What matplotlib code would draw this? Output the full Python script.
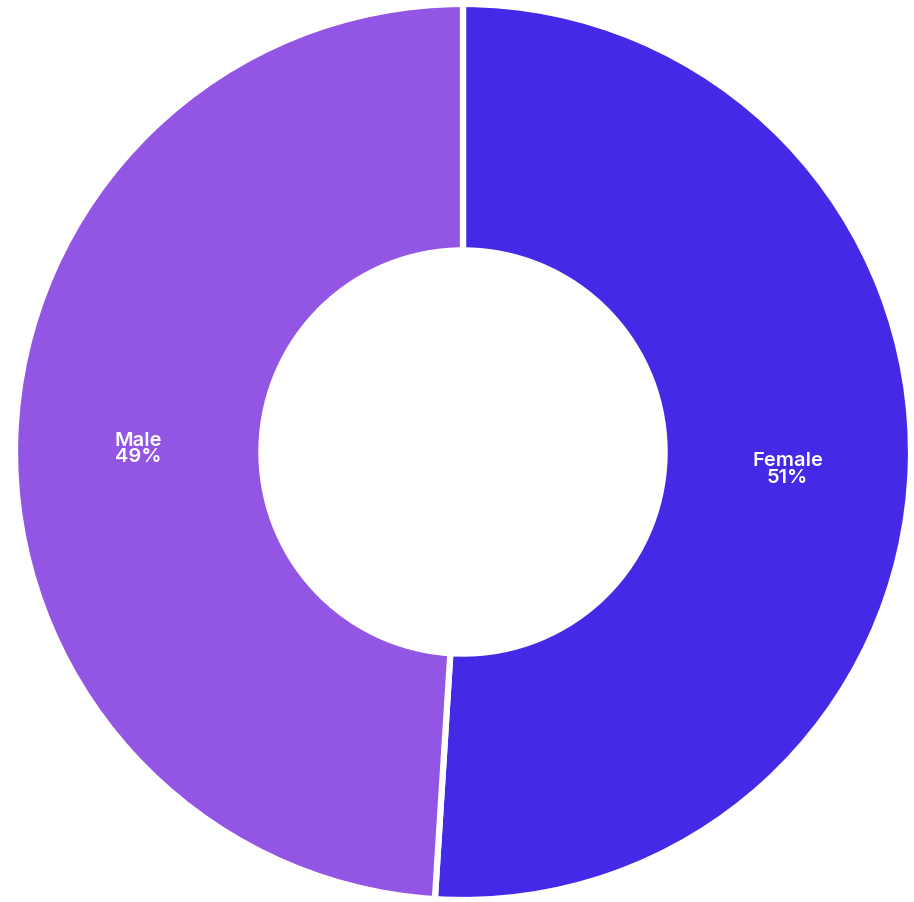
import matplotlib.pyplot as plt
import numpy as np

labels = ['Female', 'Male']
shares = [51, 49]
colors = ['#4429E6', '#9355E3']

fig = plt.figure(figsize=(9.14, 9.03), dpi=100)
ax = fig.add_axes([0, 0, 1, 1])

wedges, _ = ax.pie(shares, colors=colors, startangle=90, counterclock=False,
                   radius=1.0, wedgeprops=dict(width=0.55, edgecolor='white', linewidth=4.5))

# labels at the middle of the ring
for w, lab, val in zip(wedges, labels, shares):
    ang = np.deg2rad((w.theta1 + w.theta2) / 2)
    r = 0.725
    ax.text(r * np.cos(ang), r * np.sin(ang) - 0.014, f'{lab}\n{val}%', ha='center', va='center',
            color='white', fontsize=14.5, fontweight='semibold', family=['Inter', 'DejaVu Sans'],
            linespacing=0.9)

ax.set_xlim(-463 / 448, (914 - 463) / 448)
ax.set_ylim(-(903 - 453) / 448, 453 / 448)
ax.set_aspect('auto')
ax.axis('off')

fig.savefig('out.png', dpi=100, facecolor='white')
